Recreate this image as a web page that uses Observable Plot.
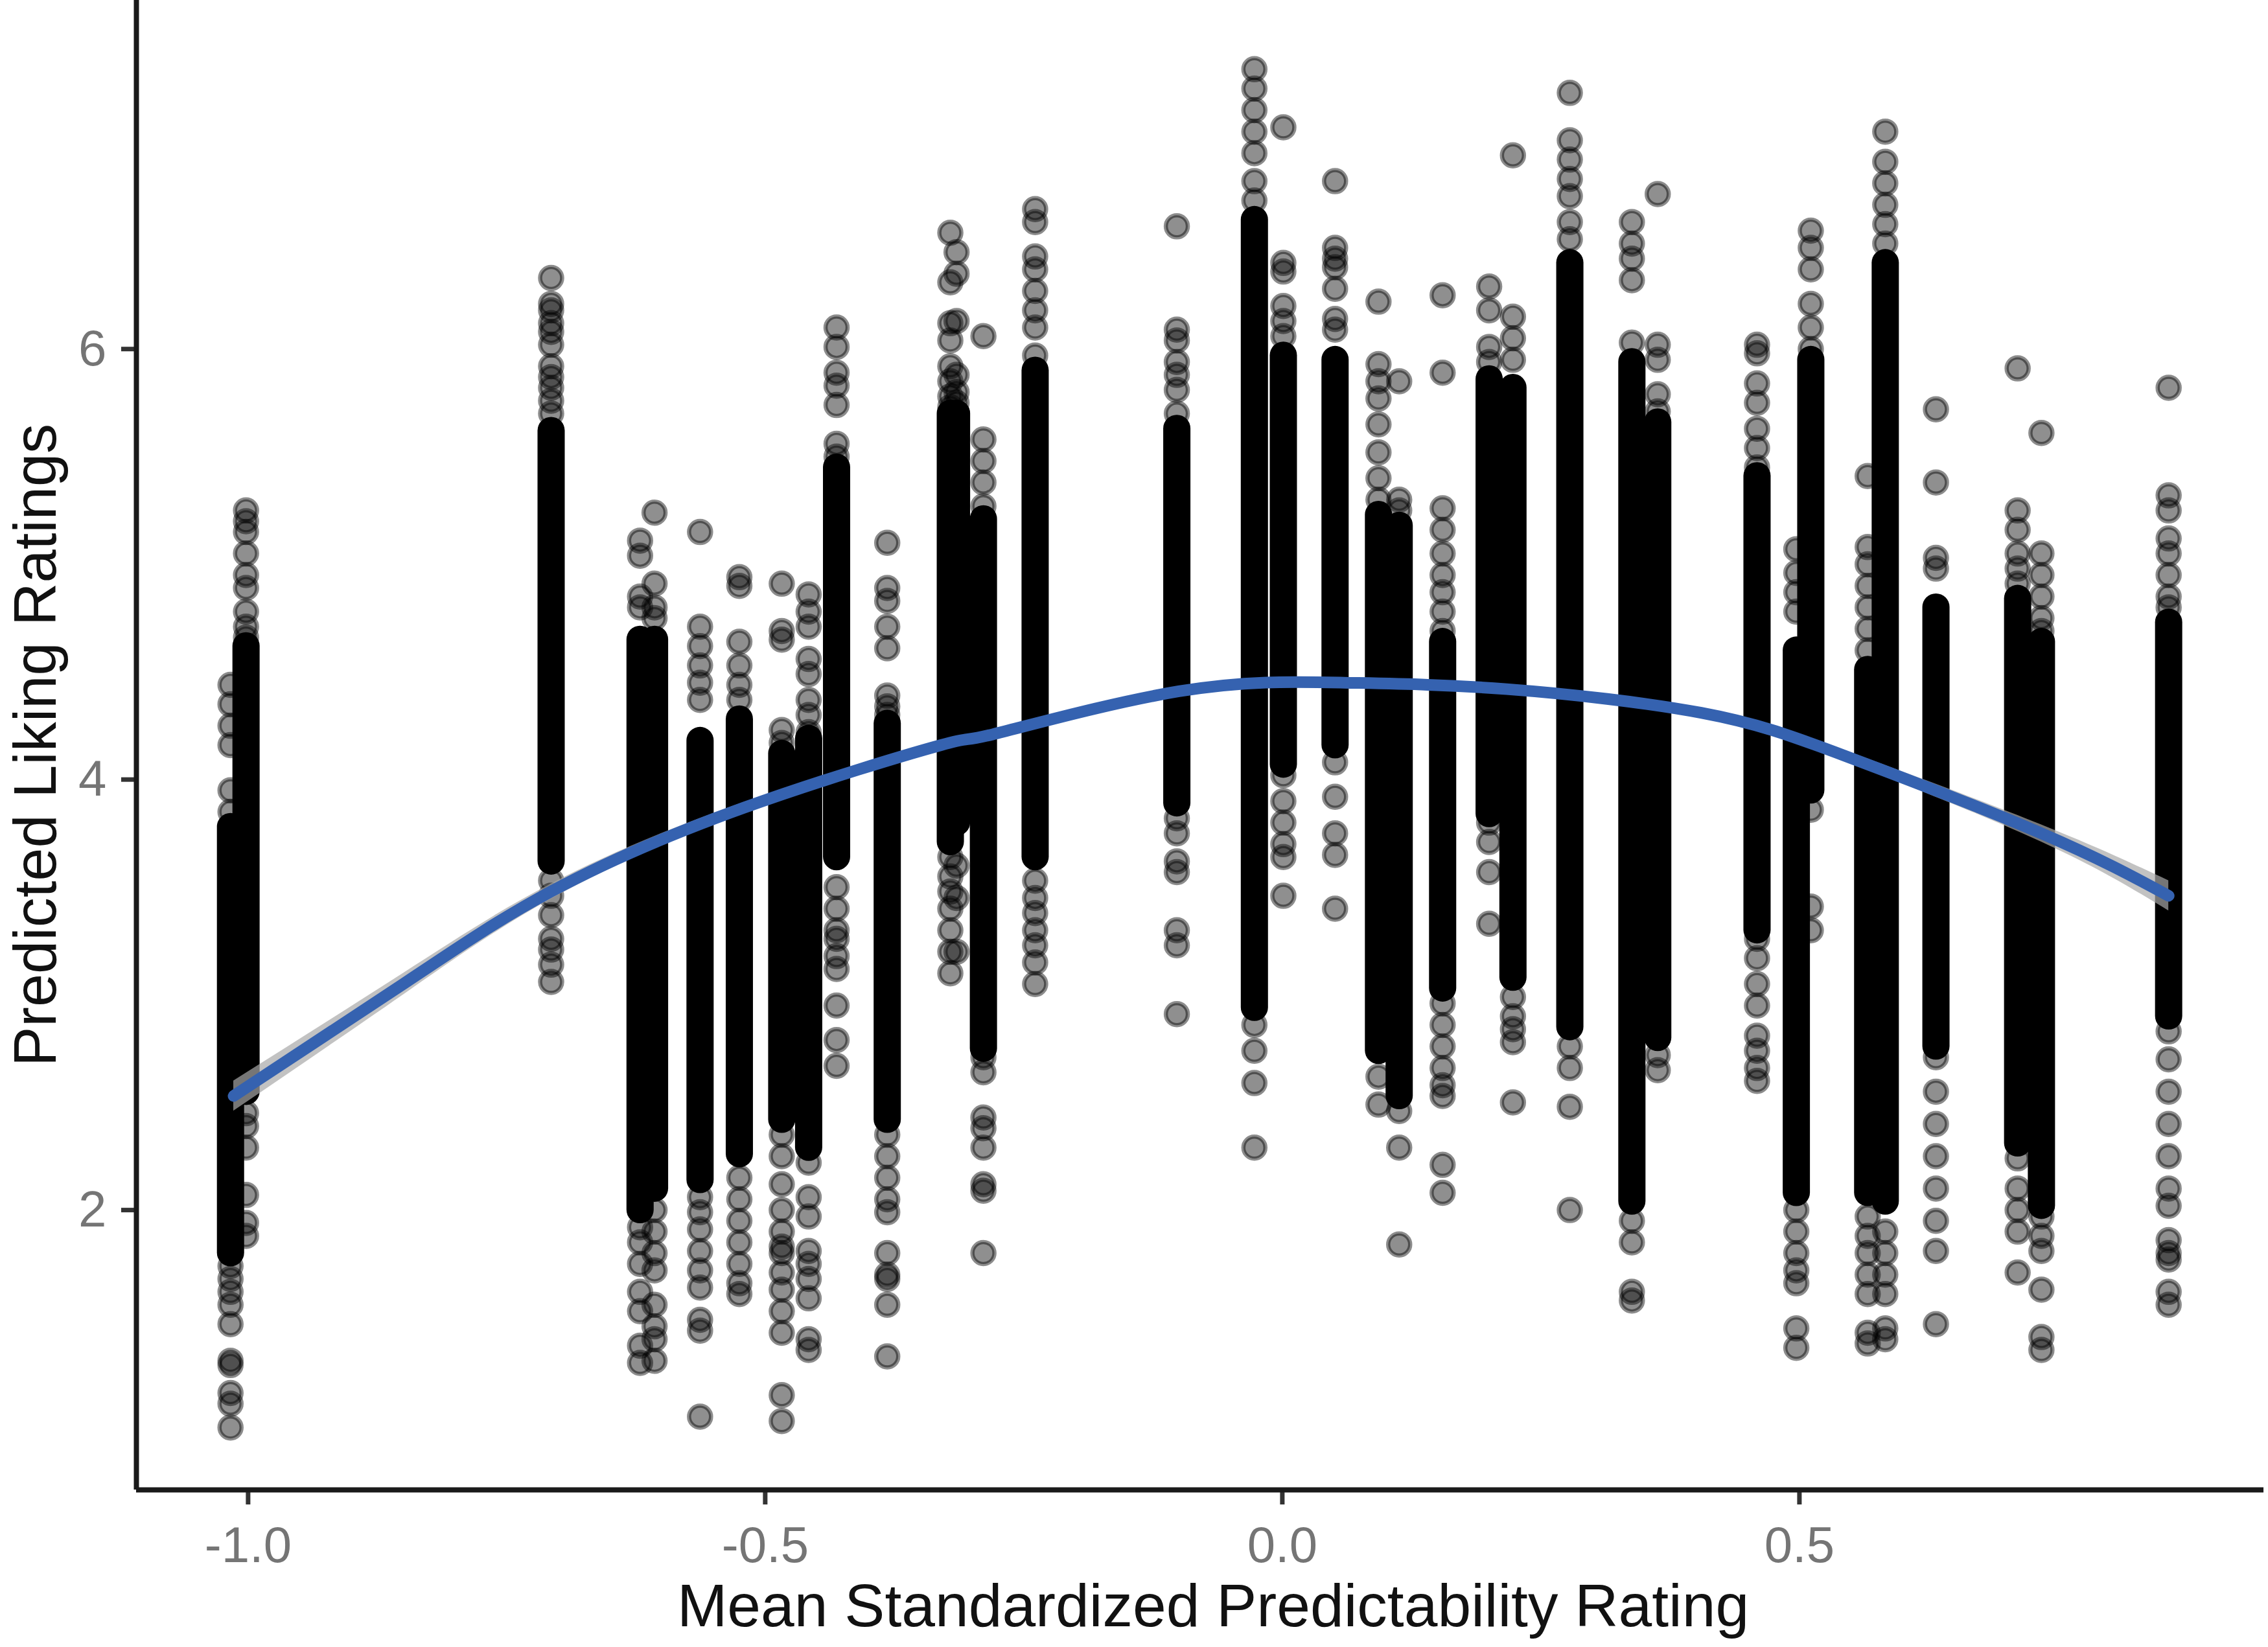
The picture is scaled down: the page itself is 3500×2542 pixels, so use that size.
<!DOCTYPE html>
<html>
<head>
<meta charset="utf-8">
<script src="https://cdn.jsdelivr.net/npm/d3@7"></script>
<script src="https://cdn.jsdelivr.net/npm/@observablehq/plot@0.6"></script>
<style>
  html, body { margin: 0; padding: 0; background: #fff; }
</style>
</head>
<body>
<div id="chart"></div>
<script>
// ---- data ----
const xTitle = "Mean Standardized Predictability Rating";
const yTitle = "Predicted Liking Ratings";
const xTicks = [-1.0, -0.5, 0.0, 0.5];
const yTicks = [2, 4, 6];
const xDomain = [-1.108, 0.949];
const yDomain = [0.70, 7.62];

// x position of each column of stimuli
const colX = [-1.017, -1.002, -0.707, -0.621, -0.607, -0.563, -0.525, -0.484, -0.458, -0.431,
  -0.382, -0.321, -0.315, -0.289, -0.239, -0.102, -0.027, 0.001, 0.051, 0.093,
  0.113, 0.155, 0.200, 0.223, 0.278, 0.338, 0.363, 0.459, 0.497, 0.511,
  0.566, 0.583, 0.632, 0.711, 0.734, 0.857];

// fully overplotted (solid black) stretch of each column
const denseHi = [3.78, 4.62, 5.62, 4.65, 4.65, 4.18, 4.28, 4.12, 4.19, 5.45,
  4.26, 5.70, 5.70, 5.21, 5.90, 5.63, 6.60, 5.97, 5.95, 5.23,
  5.18, 4.64, 5.86, 5.82, 6.40, 5.94, 5.66, 5.41, 4.60, 5.95,
  4.51, 6.40, 4.80, 4.84, 4.64, 4.73];
const denseLo = [1.80, 2.55, 3.62, 2.00, 2.10, 2.14, 2.26, 2.42, 2.29, 3.64,
  2.42, 3.71, 3.80, 2.75, 3.64, 3.89, 2.94, 4.07, 4.16, 2.74,
  2.53, 3.03, 3.84, 3.08, 2.85, 2.04, 2.80, 3.30, 2.08, 3.95,
  2.08, 2.04, 2.76, 2.31, 2.02, 2.90];

// separately visible points of each column
const sparseY = [
  [4.44, 4.35, 4.25, 4.16, 3.95, 3.85, 1.74, 1.68, 1.62, 1.56, 1.47, 1.30, 1.28, 1.15, 1.10, 0.99],
  [5.25, 5.20, 5.15, 5.05, 4.95, 4.89, 4.78, 4.71, 4.66, 2.45, 2.39, 2.29, 2.07, 1.94, 1.88],
  [6.33, 6.21, 6.18, 6.12, 6.08, 6.02, 5.92, 5.87, 5.82, 5.76, 5.70, 3.53, 3.46, 3.37, 3.26, 3.21, 3.14, 3.06],
  [5.11, 5.04, 4.85, 4.80, 1.92, 1.85, 1.75, 1.62, 1.53, 1.37, 1.29],
  [5.24, 4.91, 4.80, 4.75, 2.00, 1.90, 1.80, 1.72, 1.56, 1.46, 1.40, 1.30],
  [5.15, 4.71, 4.62, 4.53, 4.45, 4.37, 2.06, 1.99, 1.91, 1.81, 1.72, 1.64, 1.49, 1.44, 1.04],
  [4.94, 4.90, 4.64, 4.53, 4.44, 4.37, 2.15, 2.05, 1.95, 1.85, 1.75, 1.66, 1.61],
  [4.91, 4.69, 4.65, 4.23, 4.17, 2.35, 2.25, 2.12, 2.00, 1.90, 1.83, 1.80, 1.71, 1.63, 1.53, 1.43, 1.14, 1.02],
  [4.86, 4.78, 4.71, 4.56, 4.49, 4.37, 4.30, 4.22, 2.22, 2.06, 1.97, 1.81, 1.75, 1.68, 1.59, 1.40, 1.35],
  [6.10, 6.01, 5.89, 5.83, 5.74, 5.56, 5.50, 3.50, 3.40, 3.30, 3.26, 3.18, 3.12, 2.95, 2.79, 2.67],
  [5.10, 4.89, 4.83, 4.71, 4.61, 4.39, 4.34, 4.30, 2.35, 2.25, 2.15, 2.05, 1.99, 1.80, 1.70, 1.68, 1.56, 1.32],
  [6.54, 6.31, 6.12, 6.04, 5.92, 5.85, 5.78, 5.73, 3.64, 3.55, 3.48, 3.40, 3.30, 3.20, 3.10],
  [6.45, 6.35, 6.13, 5.88, 5.80, 5.75, 3.60, 3.45, 3.20],
  [6.06, 5.58, 5.48, 5.38, 5.27, 5.05, 4.94, 2.71, 2.64, 2.43, 2.38, 2.29, 2.12, 2.09, 1.80],
  [6.65, 6.59, 6.43, 6.37, 6.27, 6.18, 6.10, 5.97, 3.53, 3.45, 3.38, 3.30, 3.23, 3.15, 3.05],
  [6.57, 6.09, 6.04, 5.94, 5.88, 5.81, 5.70, 3.82, 3.75, 3.62, 3.57, 3.30, 3.23, 2.91],
  [7.30, 7.21, 7.11, 7.01, 6.91, 6.78, 6.69, 2.86, 2.74, 2.59, 2.29],
  [7.03, 6.40, 6.36, 6.20, 6.13, 6.06, 4.02, 3.90, 3.80, 3.70, 3.64, 3.46],
  [6.78, 6.47, 6.42, 6.38, 6.28, 6.14, 6.09, 4.08, 3.92, 3.75, 3.65, 3.40],
  [6.22, 5.93, 5.85, 5.77, 5.65, 5.52, 5.40, 5.30, 2.62, 2.49],
  [5.85, 5.30, 5.25, 2.46, 2.29, 1.84],
  [6.25, 5.89, 5.26, 5.16, 5.05, 4.95, 4.87, 4.78, 4.69, 2.96, 2.86, 2.76, 2.66, 2.58, 2.53, 2.21, 2.08],
  [6.29, 6.18, 6.01, 5.94, 3.80, 3.71, 3.57, 3.33],
  [6.90, 6.15, 6.05, 5.95, 2.99, 2.90, 2.84, 2.78, 2.50],
  [7.19, 6.97, 6.88, 6.79, 6.71, 6.59, 6.51, 2.76, 2.66, 2.48, 2.00],
  [6.59, 6.49, 6.42, 6.32, 6.03, 1.95, 1.85, 1.62, 1.58],
  [6.72, 6.02, 5.95, 5.79, 5.71, 2.72, 2.65],
  [6.02, 5.98, 5.84, 5.75, 5.63, 5.54, 5.45, 3.26, 3.17, 3.05, 2.95, 2.81, 2.74, 2.66, 2.60],
  [5.07, 4.96, 4.87, 4.78, 2.00, 1.90, 1.80, 1.72, 1.66, 1.45, 1.36],
  [6.55, 6.47, 6.37, 6.21, 6.10, 6.00, 3.86, 3.41, 3.30],
  [5.41, 5.08, 5.00, 4.90, 4.80, 4.70, 4.60, 1.97, 1.88, 1.80, 1.70, 1.61, 1.43, 1.38],
  [7.01, 6.87, 6.77, 6.67, 6.58, 6.49, 1.90, 1.80, 1.70, 1.61, 1.45, 1.40],
  [5.72, 5.38, 5.03, 4.98, 2.71, 2.55, 2.40, 2.25, 2.10, 1.95, 1.81, 1.47],
  [5.91, 5.25, 5.16, 5.05, 4.98, 4.91, 2.24, 2.10, 2.00, 1.90, 1.71],
  [5.61, 5.05, 4.95, 4.85, 4.75, 4.69, 1.97, 1.88, 1.81, 1.63, 1.41, 1.35],
  [5.82, 5.32, 5.25, 5.12, 5.05, 4.95, 4.85, 4.80, 2.83, 2.70, 2.55, 2.40, 2.25, 2.10, 2.02, 1.86, 1.80, 1.77, 1.62, 1.56]
];

// fitted curve and its confidence band
const fitX  = [-1.014, -0.85, -0.707, -0.52, -0.33, -0.28, -0.10, 0.06, 0.217, 0.405, 0.544, 0.734, 0.857];
const fitY  = [2.53, 3.05, 3.48, 3.87, 4.16, 4.21, 4.41, 4.45, 4.42, 4.31, 4.11, 3.75, 3.46];
const fitLo = [2.46, 3.00, 3.445, 3.845, 4.14, 4.19, 4.39, 4.43, 4.40, 4.29, 4.085, 3.71, 3.39];
const fitHi = [2.60, 3.10, 3.515, 3.895, 4.18, 4.23, 4.43, 4.47, 4.44, 4.33, 4.135, 3.79, 3.53];

// ---- build tables ----
const dense = colX.map((x, i) => ({x, lo: denseLo[i], hi: denseHi[i]}));
const points = colX.flatMap((x, i) => sparseY[i].map(y => ({x, y})));
const fit = fitX.map((x, i) => ({x, y: fitY[i], lo: fitLo[i], hi: fitHi[i]}));

const chart = Plot.plot({
  width: 3500,
  height: 2542,
  marginLeft: 210,
  marginRight: 7,
  marginTop: 0,
  marginBottom: 243,
  x: {domain: xDomain},
  y: {domain: yDomain},
  style: {fontFamily: "'Liberation Sans', Arial, Helvetica, sans-serif", background: "#fff", overflow: "visible"},
  marks: [
    Plot.ruleX(dense, {x: "x", y1: "lo", y2: "hi", stroke: "#000", strokeWidth: 42, strokeLinecap: "round"}),
    Plot.dot(points, {x: "x", y: "y", r: 17, fill: "#000", fillOpacity: 0.44, stroke: "#000", strokeOpacity: 0.45, strokeWidth: 6.5}),
    Plot.areaY(fit, {x: "x", y1: "lo", y2: "hi", fill: "#a8a8a8", fillOpacity: 0.7, curve: "natural"}),
    Plot.line(fit, {x: "x", y: "y", stroke: "#3562b0", strokeWidth: 18, curve: "natural"}),
    Plot.axisY({ticks: yTicks, tickSize: 23, tickPadding: 23, stroke: "#333", strokeWidth: 7,
      fill: "#757575", fontSize: 78, label: null, tickFormat: d => String(d)}),
    Plot.axisX({ticks: xTicks, tickSize: 23, tickPadding: 33, stroke: "#333", strokeWidth: 7,
      fill: "#757575", fontSize: 78, label: null, tickFormat: d => d.toFixed(1)}),
    Plot.ruleX([xDomain[0]], {stroke: "#1a1a1a", strokeWidth: 8}),
    Plot.ruleY([yDomain[0]], {stroke: "#1a1a1a", strokeWidth: 8}),
    Plot.text([xTitle], {frameAnchor: "bottom", textAnchor: "middle", dx: 20, dy: 181, lineAnchor: "middle", fontSize: 93, fill: "#111"}),
    Plot.text([yTitle], {frameAnchor: "left", textAnchor: "middle", dx: -154, rotate: -90, lineAnchor: "middle", fontSize: 92, fill: "#111"})
  ]
});
document.getElementById("chart").appendChild(chart);
</script>
</body>
</html>
